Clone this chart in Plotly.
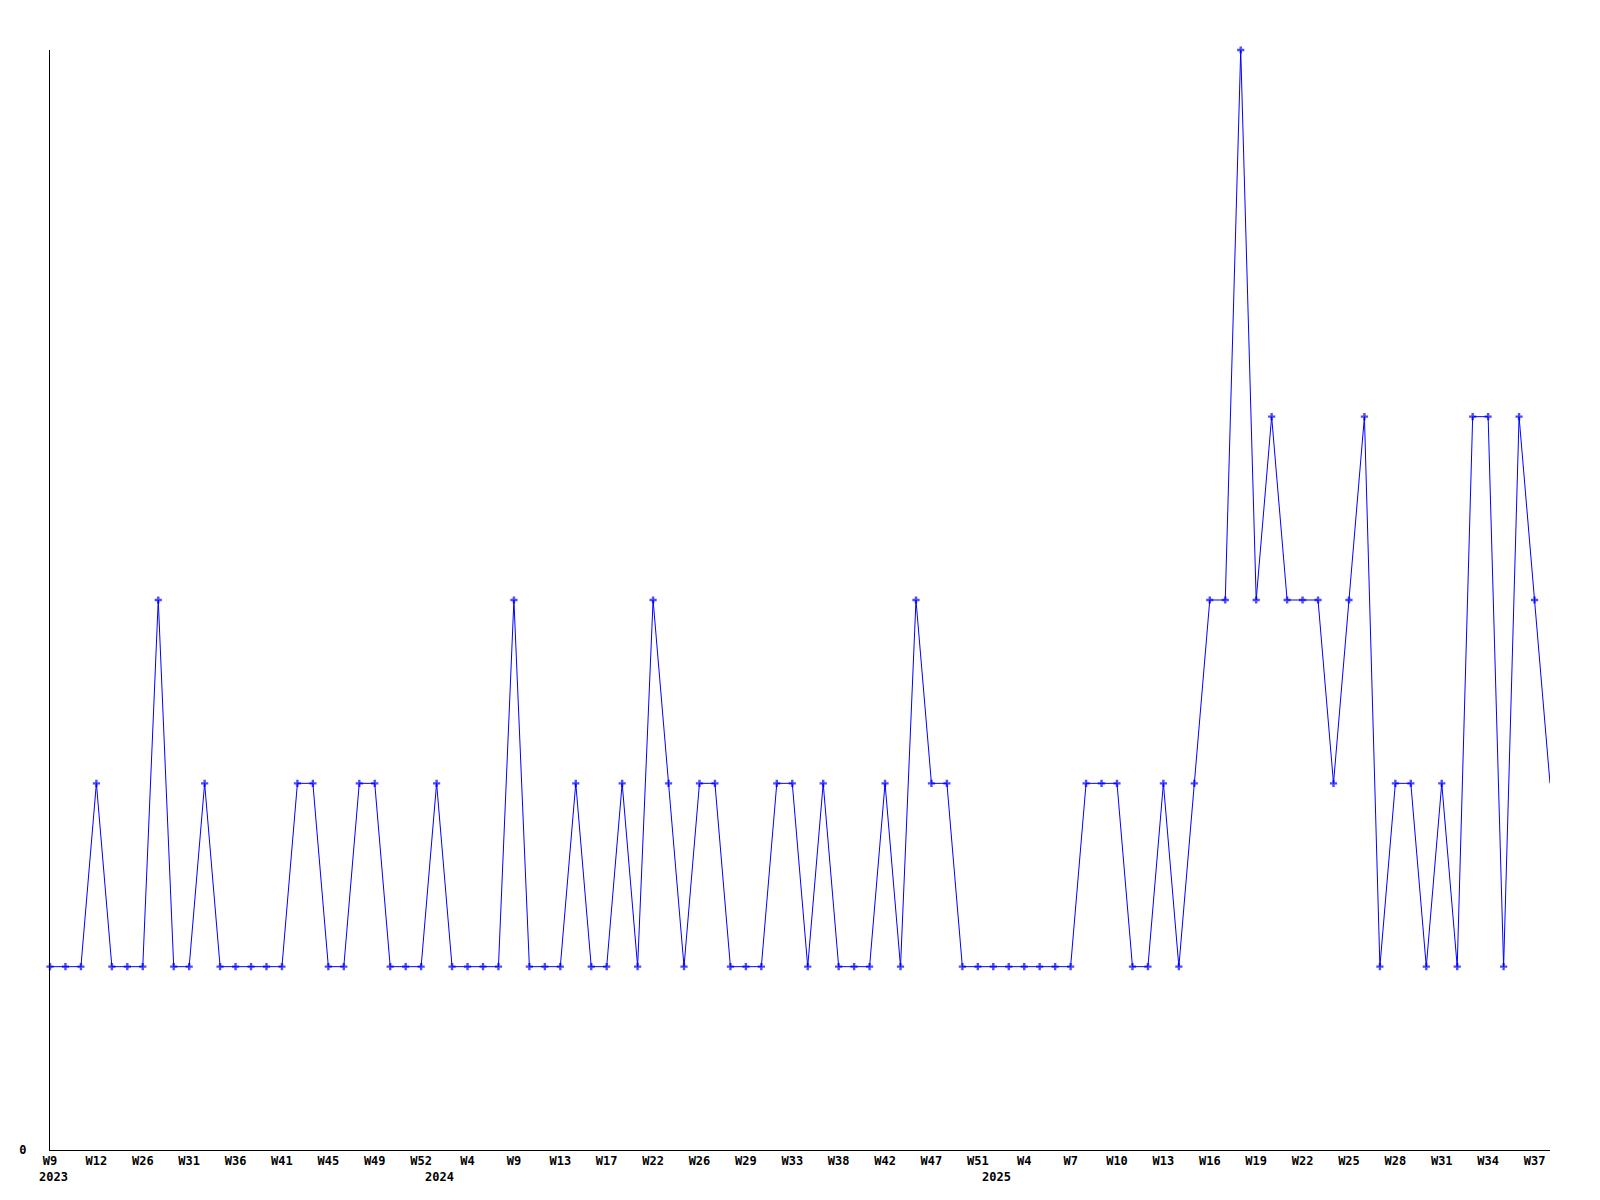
import plotly.graph_objects as go

weeks = [
    "2023-W09", "2023-W10", "2023-W11", "2023-W12", "2023-W14", "2023-W22", "2023-W26", "2023-W27",
    "2023-W29", "2023-W31", "2023-W33", "2023-W34", "2023-W36", "2023-W38", "2023-W39", "2023-W41",
    "2023-W42", "2023-W44", "2023-W45", "2023-W46", "2023-W47", "2023-W49", "2023-W50", "2023-W51",
    "2023-W52", "2024-W01", "2024-W03", "2024-W04", "2024-W05", "2024-W07", "2024-W09", "2024-W10",
    "2024-W11", "2024-W13", "2024-W14", "2024-W16", "2024-W17", "2024-W19", "2024-W20", "2024-W22",
    "2024-W23", "2024-W24", "2024-W26", "2024-W27", "2024-W28", "2024-W29", "2024-W31", "2024-W32",
    "2024-W33", "2024-W35", "2024-W36", "2024-W38", "2024-W39", "2024-W40", "2024-W42", "2024-W44",
    "2024-W45", "2024-W47", "2024-W48", "2024-W50", "2024-W51", "2025-W01", "2025-W02", "2025-W04",
    "2025-W05", "2025-W06", "2025-W07", "2025-W08", "2025-W09", "2025-W10", "2025-W11", "2025-W12",
    "2025-W13", "2025-W14", "2025-W15", "2025-W16", "2025-W17", "2025-W18", "2025-W19", "2025-W20",
    "2025-W21", "2025-W22", "2025-W23", "2025-W24", "2025-W25", "2025-W26", "2025-W27", "2025-W28",
    "2025-W29", "2025-W30", "2025-W31", "2025-W32", "2025-W33", "2025-W34", "2025-W35", "2025-W36",
    "2025-W37", "2025-W38",
]

counts = [
    1, 1, 1, 2, 1, 1, 1, 3, 1, 1, 2, 1, 1, 1, 1, 1, 2, 2, 1, 1, 2, 2, 1, 1, 1,
    2, 1, 1, 1, 1, 3, 1, 1, 1, 2, 1, 1, 2, 1, 3, 2, 1, 2, 2, 1, 1, 1, 2, 2, 1,
    2, 1, 1, 1, 2, 1, 3, 2, 2, 1, 1, 1, 1, 1, 1, 1, 1, 2, 2, 2, 1, 1, 2, 1, 2,
    3, 3, 6, 3, 4, 3, 3, 3, 2, 3, 4, 1, 2, 2, 1, 2, 1, 4, 4, 1, 4, 3, 2,
]

tick_weeks = [
    "2023-W09", "2023-W12", "2023-W26", "2023-W31", "2023-W36", "2023-W41", "2023-W45", "2023-W49",
    "2023-W52", "2024-W04", "2024-W09", "2024-W13", "2024-W17", "2024-W22", "2024-W26", "2024-W29",
    "2024-W33", "2024-W38", "2024-W42", "2024-W47", "2024-W51", "2025-W04", "2025-W07", "2025-W10",
    "2025-W13", "2025-W16", "2025-W19", "2025-W22", "2025-W25", "2025-W28", "2025-W31", "2025-W34",
    "2025-W37",
]
tick_labels = [
    "W9", "W12", "W26", "W31", "W36", "W41", "W45", "W49", "W52", "W4", "W9", "W13", "W17", "W22",
    "W26", "W29", "W33", "W38", "W42", "W47", "W51", "W4", "W7", "W10", "W13", "W16", "W19", "W22",
    "W25", "W28", "W31", "W34", "W37",
]
year_weeks = ["2023-W09", "2024-W01", "2025-W01"]
year_labels = ["2023", "2024", "2025"]

FONT = "DejaVu Sans Mono"
BLUE = "#0000ff"

marker_sizes = [6] * (len(counts) - 1) + [0]

fig = go.Figure()
fig.add_trace(go.Scatter(
    x=weeks, y=counts, mode="lines+markers",
    line=dict(color=BLUE, width=1),
    marker=dict(symbol="cross", size=marker_sizes, color=BLUE, line=dict(width=0)),
    cliponaxis=False,
    showlegend=False, hoverinfo="x+y",
))

for w, lab in zip(year_weeks, year_labels):
    fig.add_annotation(
        x=w, y=0, xref="x", yref="paper", text=lab, showarrow=False,
        yanchor="top", yshift=-18, xshift=3,
        font=dict(family=FONT, size=12, color="black", weight="bold"),
    )

fig.update_layout(
    width=1600, height=1200,
    margin=dict(l=42, r=58, t=42, b=58),
    paper_bgcolor="white", plot_bgcolor="white",
    font=dict(family=FONT, size=12, color="black"),
)
fig.update_xaxes(
    type="category", categoryorder="array", categoryarray=weeks,
    range=[0, len(weeks) - 1],
    tickmode="array", tickvals=tick_weeks, ticktext=tick_labels,
    tickangle=0,
    tickfont=dict(family=FONT, size=12, color="black", weight="bold"),
    showgrid=False, zeroline=False, showline=True, linecolor="black", linewidth=1,
    ticks="", ticklabelstandoff=0,
)
fig.update_yaxes(
    range=[0, 6], tickmode="array", tickvals=[0], ticktext=["0"],
    tickfont=dict(family=FONT, size=12, color="black", weight="bold"),
    showgrid=False, zeroline=False, showline=True, linecolor="black", linewidth=1,
    ticks="", ticklabelstandoff=20,
)

fig.write_html("out.html")
